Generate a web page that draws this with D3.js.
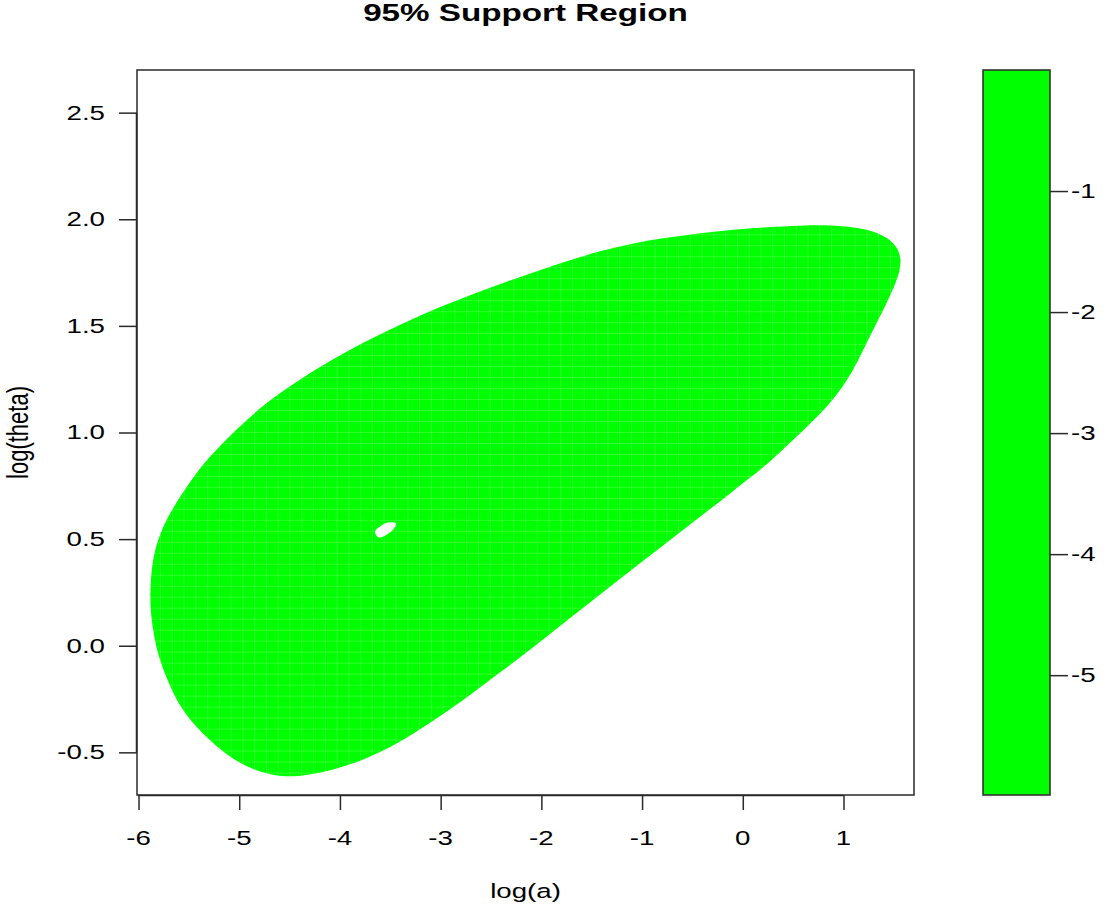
<!DOCTYPE html>
<html>
<head>
<meta charset="utf-8">
<script src="https://cdn.jsdelivr.net/npm/d3@7"></script>
<style>
  body { margin: 0; background: #fff; }
  text { font-family: "Liberation Sans", Arial, Helvetica, sans-serif; fill: #000; }
</style>
</head>
<body>
<svg id="chart" width="1113" height="913"></svg>
<script>
// ---- data: boundary of the 95% support region, in (log(a), log(theta)) ----
const regionLogA = [-5.886,-5.876,-5.846,-5.777,-5.687,-5.528,-5.350,-5.141,-4.923,-4.694,-4.376,-4.029,-3.701,-3.363,-3.036,-2.708,-2.380,-2.043,-1.745,-1.417,-1.089,-0.752,-0.424,-0.096,0.241,0.569,0.867,1.115,1.294,1.443,1.532,1.572,1.562,1.512,1.433,1.344,1.244,1.145,1.016,0.847,0.649,0.470,0.271,0.072,-0.176,-0.424,-0.752,-1.089,-1.417,-1.745,-2.078,-2.410,-2.737,-3.075,-3.433,-3.771,-4.098,-4.426,-4.645,-4.853,-5.032,-5.191,-5.359,-5.518,-5.628,-5.717,-5.796,-5.846,-5.876];
const regionLogTheta = [0.231,0.334,0.437,0.536,0.625,0.742,0.859,0.962,1.060,1.154,1.257,1.355,1.439,1.514,1.584,1.645,1.701,1.757,1.804,1.851,1.889,1.914,1.935,1.952,1.963,1.971,1.973,1.963,1.945,1.912,1.870,1.818,1.762,1.692,1.612,1.528,1.434,1.336,1.228,1.125,1.032,0.952,0.863,0.788,0.695,0.606,0.484,0.362,0.241,0.119,-0.007,-0.125,-0.242,-0.354,-0.462,-0.537,-0.588,-0.616,-0.611,-0.583,-0.541,-0.485,-0.415,-0.331,-0.251,-0.157,-0.059,0.044,0.138];
// small hole inside the region
const holeLogA = [-3.651,-3.602,-3.522,-3.443,-3.473,-3.532,-3.602,-3.631];
const holeLogTheta = [0.536,0.559,0.578,0.573,0.545,0.522,0.508,0.512];

const xTicks = [-6,-5,-4,-3,-2,-1,0,1];
const yTicks = [-0.5,0.0,0.5,1.0,1.5,2.0,2.5];
const keyTicks = [-1,-2,-3,-4,-5];
const xDomain = [-6.015, 1.70];
const yDomain = [-0.70, 2.70];
const keyDomain = [-5.99, 0.0];
const gridCells = 66;   // evaluation grid of the contour (faint cell seams)
const fillColor = "#00FF00";
const titleText = "95% Support Region";
const xLabel = "log(a)";
const yLabel = "log(theta)";

// ---- layout ----
const svg = d3.select("#chart");
const plot = {left: 137, right: 914, top: 70, bottom: 795};
const key = {left: 983, right: 1050, top: 70, bottom: 795};
const SX = 1.42;       // horizontal stretch of the lettering
const FS = 19.5;       // tick label font size
const ink = "#2a2a2a";
const lw = 1.5;

const x = d3.scaleLinear().domain(xDomain).range([plot.left, plot.right]);
const y = d3.scaleLinear().domain(yDomain).range([plot.bottom, plot.top]);
const kY = d3.scaleLinear().domain(keyDomain).range([key.bottom, key.top]);

function label(px, py, txt, anchor, size, sx, weight) {
  return svg.append("text")
    .attr("transform", `translate(${px},${py}) scale(${sx},1)`)
    .attr("text-anchor", anchor)
    .attr("font-size", size)
    .attr("font-weight", weight || "normal")
    .text(txt);
}
const fmtInt = d => String(d);
const fmt1 = d => d.toFixed(1);

// region
const outer = regionLogA.map((a, i) => [x(a), y(regionLogTheta[i])]);
const hole = holeLogA.map((a, i) => [x(a), y(holeLogTheta[i])]);
const outerGen = d3.line().curve(d3.curveBasisClosed);
const holeGen = d3.line().curve(d3.curveCatmullRomClosed.alpha(0.5));
const regionD = outerGen(outer) + holeGen(hole);
const defs = svg.append("defs");
defs.append("clipPath").attr("id", "clip")
  .append("rect").attr("x", plot.left).attr("y", plot.top)
  .attr("width", plot.right - plot.left).attr("height", plot.bottom - plot.top);
defs.append("clipPath").attr("id", "regionClip")
  .append("path").attr("d", regionD).attr("clip-rule", "evenodd");
svg.append("path")
  .attr("d", regionD)
  .attr("fill", fillColor)
  .attr("fill-rule", "evenodd")
  .attr("clip-path", "url(#clip)");

// faint seams between the filled grid cells
const seams = svg.append("g").attr("clip-path", "url(#regionClip)")
  .attr("stroke", "#c8ffc8").attr("stroke-width", 1).attr("stroke-opacity", 0.22);
const gx0 = d3.range(gridCells + 1).map(i => xDomain[0] + i * (xDomain[1] - xDomain[0]) / gridCells);
const gy0 = d3.range(gridCells + 1).map(i => yDomain[0] + i * (yDomain[1] - yDomain[0]) / gridCells);
seams.selectAll("line.v").data(gx0).join("line").attr("class", "v")
  .attr("x1", d => x(d)).attr("x2", d => x(d)).attr("y1", plot.top).attr("y2", plot.bottom);
seams.selectAll("line.h").data(gy0).join("line").attr("class", "h")
  .attr("y1", d => y(d)).attr("y2", d => y(d)).attr("x1", plot.left).attr("x2", plot.right);

// plot box
svg.append("rect")
  .attr("x", plot.left).attr("y", plot.top)
  .attr("width", plot.right - plot.left).attr("height", plot.bottom - plot.top)
  .attr("fill", "none").attr("stroke", ink).attr("stroke-width", lw);

// x axis (lines via d3 axis, labels stretched)
const gx = svg.append("g").attr("transform", `translate(0,${plot.bottom})`)
  .call(d3.axisBottom(x).tickValues(xTicks).tickSize(15).tickFormat(""));
gx.select(".domain").attr("d", `M${x(xTicks[0])},0.5H${x(xTicks[xTicks.length - 1])}`)
  .attr("stroke", ink).attr("stroke-width", lw);
gx.selectAll(".tick line").attr("stroke", ink).attr("stroke-width", lw);
xTicks.forEach(t => label(x(t), 845, fmtInt(t), "middle", FS, SX));

// y axis
const gy = svg.append("g").attr("transform", `translate(${plot.left},0)`)
  .call(d3.axisLeft(y).tickValues(yTicks).tickSize(18).tickFormat(""));
gy.select(".domain").attr("d", `M-0.5,${y(yTicks[0])}V${y(yTicks[yTicks.length - 1])}`)
  .attr("stroke", ink).attr("stroke-width", lw);
gy.selectAll(".tick line").attr("stroke", ink).attr("stroke-width", lw);
yTicks.forEach(t => label(105, y(t) + 0.358 * FS, fmt1(t), "end", FS, SX));

// key
svg.append("rect")
  .attr("x", key.left).attr("y", key.top)
  .attr("width", key.right - key.left).attr("height", key.bottom - key.top)
  .attr("fill", fillColor).attr("stroke", ink).attr("stroke-width", lw);
const gk = svg.append("g").attr("transform", `translate(${key.right},0)`)
  .call(d3.axisRight(kY).tickValues(keyTicks).tickSize(18).tickFormat(""));
gk.select(".domain").remove();
gk.selectAll(".tick line").attr("stroke", ink).attr("stroke-width", lw);
keyTicks.forEach(t => label(1071, kY(t) + 0.358 * FS, fmtInt(t), "start", FS, SX));

// titles
label((plot.left + plot.right) / 2, 21, titleText, "middle", 23.4, 1.42, "bold");
label((plot.left + plot.right) / 2, 898, xLabel, "middle", 19.5, 1.42);
svg.append("text")
  .attr("transform", `translate(28,${(plot.top + plot.bottom) / 2}) scale(1.3,1) rotate(-90)`)
  .attr("text-anchor", "middle").attr("font-size", 22)
  .text(yLabel);
</script>
</body>
</html>
